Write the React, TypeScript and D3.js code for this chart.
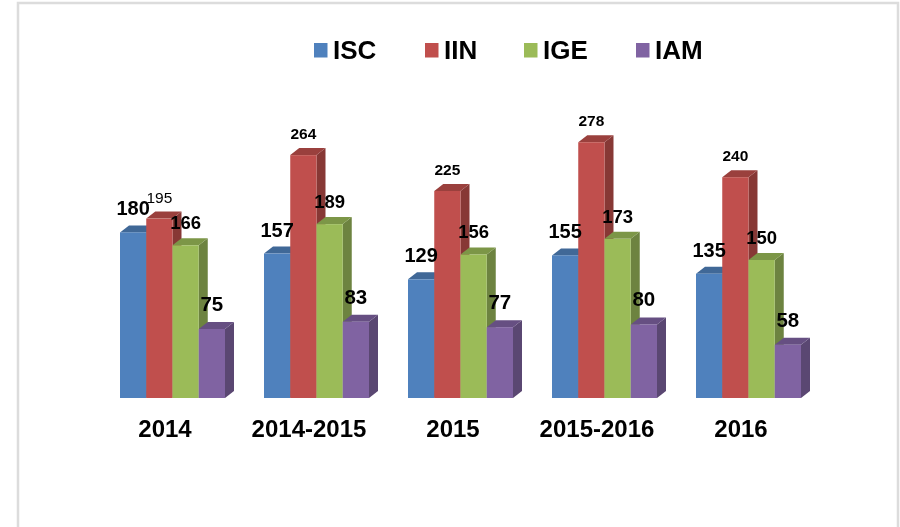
import React from "react";
import * as d3 from "d3";

const categories = ["2014", "2014-2015", "2015", "2015-2016", "2016"];
const seriesNames = ["ISC", "IIN", "IGE", "IAM"];
const isc = [180, 157, 129, 155, 135];
const iin = [195, 264, 225, 278, 240];
const ige = [166, 189, 156, 173, 150];
const iam = [75, 83, 77, 80, 58];
const seriesValues = [isc, iin, ige, iam];
const frontColors = ["#4f81bd", "#c0504d", "#9bbb59", "#8064a2"];
const topColors = ["#3f6797", "#9a403d", "#7c9647", "#665082"];
const sideColors = ["#365a85", "#873936", "#6d8340", "#5a4672"];
const legendSwatchX = [314, 425, 524, 636];
const labelFont = [20, 15.5, 18.5, 20.5];
const labelGap = [17, 16, 16, 18];

const W = 900;
const H = 527;
const baseY = 398;
const depthX = 9;
const depthY = 7;

export default function App() {
  const x0 = d3.scalePoint<string>().domain(categories).range([120, 696]);
  const x1 = d3.scaleBand<string>().domain(seriesNames).range([0, 105]);
  const y = d3.scaleLinear().domain([0, 300]).range([baseY, baseY - 276]);
  const bw = x1.bandwidth();
  const poly = (pts: [number, number][]) => d3.line()(pts) + "Z";

  return (
    <svg
      width={W}
      height={H}
      style={{ position: "absolute", left: 0, top: 0, background: "#fff", fontFamily: "'Liberation Sans', Arial, sans-serif" }}
    >
      <defs>
        <filter id="soft" x="-5%" y="-5%" width="110%" height="110%">
          <feGaussianBlur stdDeviation="0.45" />
        </filter>
      </defs>
      <g filter="url(#soft)">
        <path d={`M18,${H + 5}V3H898V${H + 5}`} fill="none" stroke="#dcdcdc" strokeWidth={2.5} />
        {seriesNames.map((name, i) => (
          <g key={name}>
            <rect x={legendSwatchX[i]} y={43} width={13.5} height={14.5} fill={frontColors[i]} />
            <text x={legendSwatchX[i] + 19} y={59} fontSize={26} fontWeight={700} fill="#000">
              {name}
            </text>
          </g>
        ))}
        {categories.map((cat, c) => {
          const gx = x0(cat)!;
          return (
            <g key={cat}>
              {seriesNames.map((name, s) => {
                const v = seriesValues[s][c];
                const left = gx + x1(name)!;
                const right = left + bw;
                const top = y(v);
                return (
                  <g key={name}>
                    <path
                      d={poly([[right, baseY], [right + depthX, baseY - depthY], [right + depthX, top - depthY], [right, top]])}
                      fill={sideColors[s]}
                    />
                    <path
                      d={poly([[left, top], [left + depthX, top - depthY], [right + depthX, top - depthY], [right, top]])}
                      fill={topColors[s]}
                    />
                    <rect x={left} y={top} width={bw} height={baseY - top} fill={frontColors[s]} />
                  </g>
                );
              })}
              <text x={gx + 45} y={437} fontSize={24} fontWeight={700} textAnchor="middle" fill="#000">
                {cat}
              </text>
            </g>
          );
        })}
        {categories.map((cat, c) =>
          seriesNames.map((name, s) => {
            const v = seriesValues[s][c];
            const thin = c === 0 && s === 1;
            return (
              <text
                key={cat + name}
                x={x0(cat)! + x1(name)! + bw / 2}
                y={y(v) - labelGap[s]}
                fontSize={labelFont[s]}
                fontWeight={thin ? 400 : 700}
                textAnchor="middle"
                fill="#000"
              >
                {v}
              </text>
            );
          })
        )}
      </g>
    </svg>
  );
}
